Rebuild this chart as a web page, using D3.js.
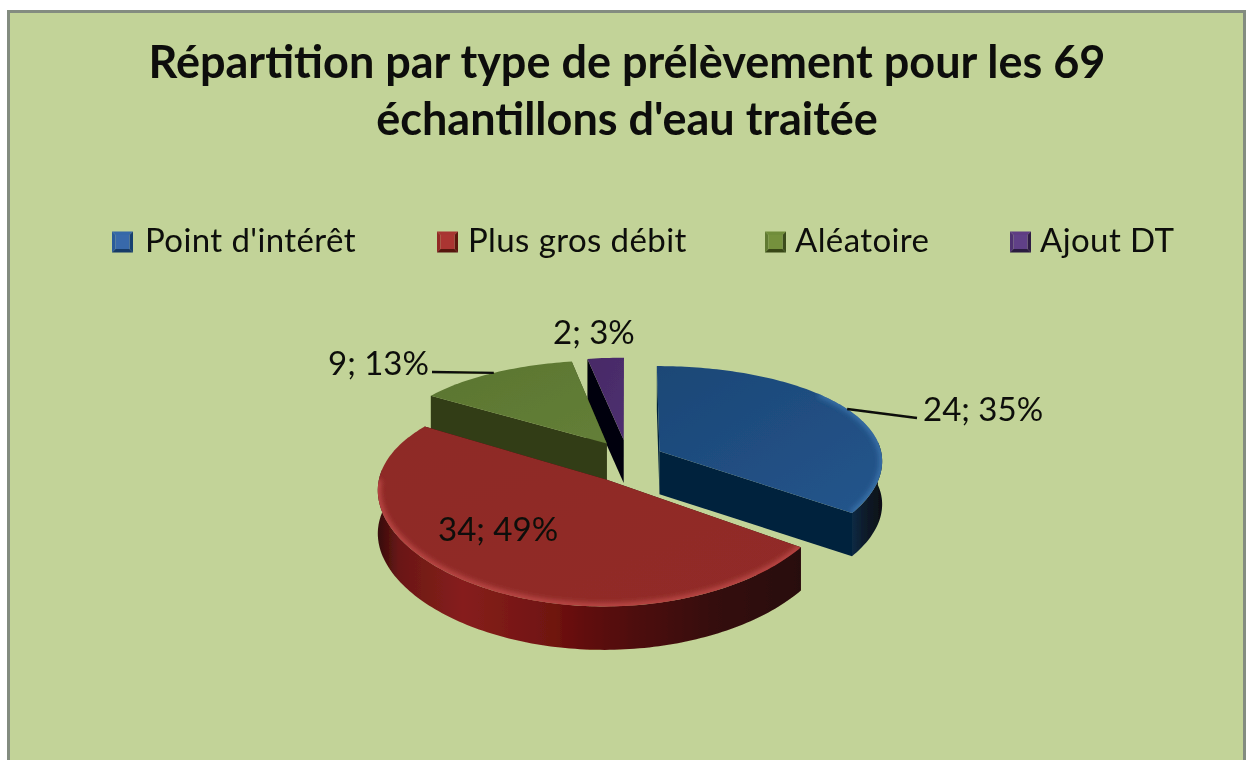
<!DOCTYPE html>
<html><head><meta charset="utf-8">
<script src="https://cdnjs.cloudflare.com/ajax/libs/d3/7.8.5/d3.min.js"></script>
<style>html,body{margin:0;padding:0;background:#fff}svg{display:block}text{font-family:Lato,"Open Sans",sans-serif;fill:#0c0f08}</style>
</head><body><svg id="c" width="1252" height="760"></svg>
<script>
const categories=["Point d'intérêt","Plus gros débit","Aléatoire","Ajout DT"];
const values=[24,34,9,2];
const percents=[35,49,13,3];
const titleLines=["Répartition par type de prélèvement pour les 69","échantillons d'eau traitée"];
const topColors=[["#1b4776","#25558c"],["#8e2926","#922c29"],["#5a7530","#647f38"],["#472a66","#4e2f70"]];
const wallColors=["#02203d","#300b09","#333e14","#04060c"];
const edgeLights=["#3f79b0","#c9524f","#6f8b40","#5c3c80"];
const swatchColors=[["#3f73b8","#1d4a82"],["#c0413d","#6d1614"],["#83a347","#45591f"],["#6f4a99","#352050"]];

// layout
const cx=627,cy=461,A=223.5,B=101,perspY=0.154,perspX=0.09,exU=0.165,exV=0.215,depth=43;
const legendX=[112,437,765,1010],legendTextX=[145,468,795,1040],legendY=242;
const labelAt=[{x:923,y:421,lead:[917,418]},{x:438,y:541},{x:328,y:375,lead:[432,372]},{x:553,y:344}];
const drawOrder=[3,2,0,1];

const svg=d3.select("#c"),defs=svg.append("defs");
defs.append("filter").attr("id","soft").attr("x","-5%").attr("y","-5%").attr("width","110%").attr("height","110%")
  .append("feGaussianBlur").attr("stdDeviation",0.7);
defs.append("filter").attr("id","soft4").attr("x","-10%").attr("y","-10%").attr("width","120%").attr("height","120%")
  .append("feGaussianBlur").attr("stdDeviation",2.5);
defs.append("filter").attr("id","txt").append("feGaussianBlur").attr("stdDeviation",0.45);

// frame
svg.append("rect").attr("x",8.5).attr("y",11.5).attr("width",1236).attr("height",770)
  .attr("fill","#c2d398").attr("stroke","#838c80").attr("stroke-width",3);

// title
svg.append("g").attr("filter","url(#txt)").selectAll("text").data(titleLines).join("text")
  .attr("x",627).attr("y",(d,i)=>78+i*57).attr("text-anchor","middle")
  .attr("font-size",45).attr("font-weight",700).text(d=>d);

// pie
const slices=d3.pie().sort(null)(values);
const point=(r,a,mid,drop=0)=>{
  const u=r*Math.sin(a)+exU*Math.sin(mid), v=-r*Math.cos(a)-exV*Math.cos(mid);
  const sy=1/(1-perspY*v), sx=1/(1-perspX*v);
  return [cx+A*u*sx, cy+B*v*sy+drop*(0.95+0.05*sy)];
};
const line=d3.line();
const sweep=(a0,a1)=>{const n=Math.max(2,Math.ceil((a1-a0)/0.02));return d3.range(n+1).map(i=>a0+(a1-a0)*i/n);};
const pieG=svg.append("g").attr("filter","url(#soft)");
const rimGrad=[
 [[0,"#0e2a44"],[.4,"#0a1c2c"],[1,"#070f14"]],
 [[0,"#350b0b"],[.05,"#6a1715"],[.2,"#861f1c"],[.42,"#6f1310"],[.5,"#5f0a07"],[.6,"#4f0f0c"],[.8,"#340c09"],[1,"#280907"]],
 [[0,"#333e14"],[1,"#333e14"]],[[0,"#04060c"],[1,"#04060c"]]];
rimGrad.forEach((stops,i)=>{
  const g=defs.append("linearGradient").attr("id","rim"+i);
  stops.forEach(s=>g.append("stop").attr("offset",s[0]).attr("stop-color",s[1]));
  const t=defs.append("linearGradient").attr("id","top"+i).attr("x1",0).attr("y1",0).attr("x2",1).attr("y2",1);
  t.append("stop").attr("offset",0).attr("stop-color",topColors[i][0]);
  t.append("stop").attr("offset",1).attr("stop-color",topColors[i][1]);
});
drawOrder.forEach(i=>{
  const d=slices[i],a0=d.startAngle,a1=d.endAngle,mid=(a0+a1)/2,g=pieG.append("g");
  const wall=a=>[point(0,a,mid),point(1,a,mid),point(1,a,mid,depth),point(0,a,mid,depth)];
  g.append("path").attr("d",line(wall(a0))+"Z").attr("fill",wallColors[i]);
  g.append("path").attr("d",line(wall(a1))+"Z").attr("fill",wallColors[i]);
  const r0=Math.max(a0,Math.PI*0.47),r1=Math.min(a1,Math.PI*1.53);
  if(r1>r0){
    const arc=sweep(r0,r1);
    const pts=arc.map(a=>point(1,a,mid)).concat(arc.slice().reverse().map(a=>point(1,a,mid,depth)));
    g.append("path").attr("d",line(pts)+"Z").attr("fill",`url(#rim${i})`);
  }
  const edge=sweep(a0,a1).map(a=>point(1,a,mid));
  const topD=line([point(0,a0,mid)].concat(edge))+"Z";
  defs.append("clipPath").attr("id","clip"+i).append("path").attr("d",topD);
  g.append("path").attr("d",topD).attr("fill",`url(#top${i})`);
  const b0=Math.max(a0,Math.PI*0.28),b1=Math.min(a1,Math.PI*1.5);
  if(b1>b0) g.append("g").attr("clip-path",`url(#clip${i})`).append("path")
    .attr("d",line(sweep(b0,b1).map(a=>point(1,a,mid)))).attr("fill","none")
    .attr("stroke",edgeLights[i]).attr("stroke-width",6).attr("stroke-opacity",0.8).attr("filter","url(#soft4)");
});

// leaders
const leaders=svg.append("g").attr("filter","url(#txt)");
slices.forEach((d,i)=>{
  const L=labelAt[i]; if(!L.lead) return;
  const mid=(d.startAngle+d.endAngle)/2;
  leaders.append("path").attr("d",line([point(1,mid,mid),L.lead])).attr("stroke","#0c0f08").attr("stroke-width",2.4).attr("fill","none");
});
// labels
svg.append("g").attr("filter","url(#txt)").selectAll("text").data(slices).join("text")
  .attr("x",(d,i)=>labelAt[i].x).attr("y",(d,i)=>labelAt[i].y)
  .attr("font-size",33).text((d,i)=>`${values[i]}; ${percents[i]}%`);

// legend
const leg=svg.append("g").attr("filter","url(#txt)");
categories.forEach((c,i)=>{
  const x=legendX[i],y=legendY,h=10.5,b=3.5;
  const x0=x,x1=x+2*h,y0=y-h,y1=y+h,ix0=x0+b,ix1=x1-b,iy0=y0+b,iy1=y1-b;
  const tri=(pts,col)=>leg.append("path").attr("d",line(pts)+"Z").attr("fill",col);
  const [lt,dk]=swatchColors[i];
  tri([[x0,y0],[x1,y0],[ix1,iy0],[ix0,iy0]],d3.interpolateRgb(lt,dk)(0.3));
  tri([[x0,y0],[x0,y1],[ix0,iy1],[ix0,iy0]],d3.interpolateRgb(lt,dk)(0.55));
  tri([[x1,y0],[x1,y1],[ix1,iy1],[ix1,iy0]],d3.interpolateRgb(dk,"#000")(0.15));
  tri([[x0,y1],[x1,y1],[ix1,iy1],[ix0,iy1]],d3.interpolateRgb(dk,"#000")(0.2));
  tri([[ix0,iy0],[ix1,iy0],[ix1,iy1],[ix0,iy1]],d3.interpolateRgb(lt,dk)(0.25));
  leg.append("text").attr("x",legendTextX[i]).attr("y",252).attr("font-size",33).attr("letter-spacing",0.4).text(c);
});
</script></body></html>
